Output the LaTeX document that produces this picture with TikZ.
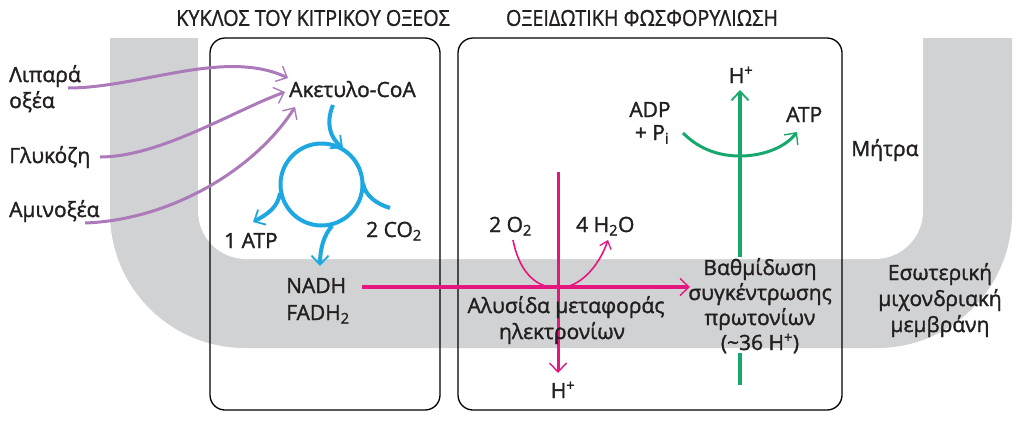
\documentclass[tikz,border=0pt]{standalone}
\usepackage{fontspec}
\setmainfont{Open Sans}[FakeBold=1.5]
\newfontfamily\titlefont[FakeStretch=0.9,FakeBold=1]{Open Sans}
\usetikzlibrary{arrows.meta}
\definecolor{cpurple}{HTML}{AC7ABA}
\definecolor{cblue}{HTML}{1DA8E2}
\definecolor{cmag}{HTML}{E5177E}
\definecolor{cgreen}{HTML}{17A86E}
\definecolor{cgray}{HTML}{D1D2D3}
\definecolor{ctext}{HTML}{231F20}
\tikzset{
  lbl/.style={inner sep=0pt, text=ctext, font=\fontsize{21}{25}\selectfont},
  ttl/.style={inner sep=0pt, text=ctext, font=\titlefont\fontsize{22}{25}\selectfont},
  box/.style={draw=black, line width=1.3pt, rounded corners=15pt},
  barb/.style={-{Straight Barb[length=9pt,width=17pt,line width=1.4pt]}},
  purplearrow/.style={cpurple, line width=3pt, barb},
  bluearrow/.style={cblue, line width=4pt, -{Straight Barb[length=9pt,width=17pt,line width=1.8pt]}},
  blueline/.style={cblue, line width=4pt},
  magline/.style={cmag, line width=3.5pt},
  greenline/.style={cgreen, line width=4pt},
}
\begin{document}
\begin{tikzpicture}[x=1pt,y=-1pt]
\useasboundingbox (0,0) rectangle (1024,424);
% membrane U band
\begin{scope}
  \clip (0,38) rectangle (1024,424);
  \fill[cgray, rounded corners=135pt] (110,-300) rectangle (1012,348);
  \fill[white, rounded corners=48pt] (198,-300) rectangle (923,259);
\end{scope}
% boxes
\draw[box] (210,38) rectangle (440,410);
\draw[box] (458,38) rectangle (842,410);
% titles
\node[ttl] (t1) at (313,18) {ΚΥΚΛΟΣ ΤΟΥ ΚΙΤΡΙΚΟΥ ΟΞΕΟΣ};
\node[ttl] (t2) at (642,18) {ΟΞΕΙΔΩΤΙΚΗ ΦΩΣΦΟΡΥΛΙΩΣΗ};
% left labels
\node[lbl, anchor=base west] (lip1) at (9,82) {Λιπαρά};
\node[lbl, anchor=base west] (lip2) at (9,108) {οξέα};
\node[lbl, anchor=base west] (glu) at (9,163) {Γλυκόζη};
\node[lbl, anchor=base west] (ami) at (9,217) {Αμινοξέα};
\node[lbl, anchor=base west] (acoa) at (289,97) {Ακετυλο-CoA};
\node[lbl, anchor=base west] (atp1) at (224,248) {1 ATP};
\node[lbl, anchor=base west] (co2) at (366,237) {2 CO\textsubscript{2}};
\node[lbl, anchor=base west] (nadh) at (286,293) {NADH};
\node[lbl, anchor=base west] (fadh) at (286,320) {FADH\textsubscript{2}};
% purple arrows
\coordinate (p1s) at (68,88);  \coordinate (p1e) at (288,78);
\coordinate (p2s) at (100,157); \coordinate (p2e) at (285,92);
\coordinate (p3s) at (85,223); \coordinate (p3e) at (295,107);
\draw[purplearrow] (p1s) .. controls (140,88) and (225,48) .. (p1e);
\draw[purplearrow] (p2s) .. controls (160,157) and (235,110) .. (p2e);
\draw[purplearrow] (p3s) .. controls (170,220) and (255,170) .. (p3e);
% citric acid cycle
\node[circle, draw=cblue, line width=4pt, minimum size=82pt, inner sep=0pt] (cyc) at (321.5,184.5) {};
\coordinate (b1s) at (333,105); \coordinate (b1e) at (343,148);
\draw[bluearrow] (b1s) .. controls (326,122) and (329,137) .. (b1e);
\coordinate (b2s) at (280,193); \coordinate (b2e) at (253,222);
\draw[bluearrow] (b2s) .. controls (278,207) and (268,214) .. (b2e);
\coordinate (b3s) at (363,183); \coordinate (b3e) at (390,208);
\draw[blueline] (b3s) .. controls (365,196) and (377,204) .. (b3e);
\coordinate (b4s) at (332,226); \coordinate (b4e) at (320,266);
\draw[bluearrow] (b4s) .. controls (324,235) and (320,248) .. (b4e);
% electron transport
\coordinate (m1s) at (362,287); \coordinate (m1e) at (690,287);
\coordinate (m2s) at (558,172); \coordinate (m2e) at (558,373);
\coordinate (mc) at (558,288);
\node[lbl, anchor=base west] (o2) at (489,232) {2 O\textsubscript{2}};
\node[lbl, anchor=base west] (h2o) at (576,232) {4 H\textsubscript{2}O};
\coordinate (o2s) at (513,240); \coordinate (h2oe) at (608,240);
\draw[magline, barb] (m1s) -- (m1e);
\draw[magline, line width=3pt, barb] (m2s) -- (m2e);
\draw[cmag, line width=1.6pt, -{Straight Barb[length=7pt,width=12pt,line width=1.3pt]}] (o2s) .. controls (520,275) and (538,288) .. (mc) .. controls (580,288) and (599,266) .. (h2oe);
\node[lbl, anchor=base] (etc1) at (566,313) {Αλυσίδα μεταφοράς};
\node[lbl, anchor=base] (etc2) at (562,339) {ηλεκτρονίων};
\node[lbl, anchor=base] (hb) at (563,398) {H\textsuperscript{+}};
% ATP synthase
\coordinate (g1s) at (740,385); \coordinate (g1m) at (740,353);
\coordinate (g2s) at (740,257); \coordinate (g2e) at (740,90);
\draw[greenline] (g1s) -- (g1m);
\draw[greenline, -{Straight Barb[length=9pt,width=17pt,line width=1.8pt]}] (g2s) -- (g2e);
\coordinate (adps) at (683,133); \coordinate (gc) at (740,156); \coordinate (atpe) at (797,132);
\draw[cgreen, line width=3pt, barb] (adps) .. controls (700,150) and (720,156) .. (gc) .. controls (762,156) and (785,148) .. (atpe);
\node[lbl, anchor=base] (ht) at (741,83) {H\textsuperscript{+}};
\node[lbl, anchor=base] (adp) at (650,117) {ADP};
\node[lbl, anchor=base] (pi) at (652,140) {+ P\textsubscript{i}};
\node[lbl, anchor=base west] (atp2) at (786,122) {ATP};
\node[lbl, anchor=base] (gr1) at (760,275) {Βαθμίδωση};
\node[lbl, anchor=base] (gr2) at (760,300) {συγκέντρωσης};
\node[lbl, anchor=base] (gr3) at (760,325) {πρωτονίων};
\node[lbl, anchor=base] (gr4) at (760,350) {(\textasciitilde 36 H\textsuperscript{+})};
% right labels
\node[lbl, anchor=base west] (mat) at (851,156) {Μήτρα};
\node[lbl, anchor=base] (mem1) at (940,280) {Εσωτερική};
\node[lbl, anchor=base] (mem2) at (940,306) {μιχονδριακή};
\node[lbl, anchor=base] (mem3) at (940,332) {μεμβράνη};
\end{tikzpicture}
\end{document}
